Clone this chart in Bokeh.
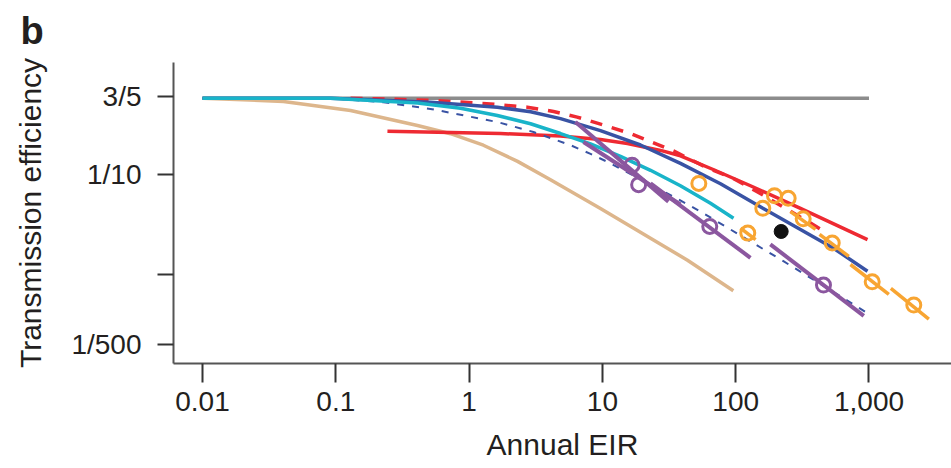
from bokeh.plotting import figure
from bokeh.models import FixedTicker, CustomJSTickFormatter, Range1d, Title
from bokeh.embed import file_html
from bokeh.resources import INLINE

# ---------------- data ----------------
x_ticks = [0.01, 0.1, 1, 10, 100, 1000]
x_tick_labels = ["0.01", "0.1", "1", "10", "100", "1,000"]
y_ticks = [0.6, 0.1, 0.01, 0.002]
y_tick_labels = ["3/5", "1/10", "", "1/500"]

grey_x = [0.01, 1000]
grey_y = [0.575, 0.575]

tan_x = [0.01, 0.0405, 0.129, 0.41, 0.725, 1.28, 2.31, 4.08, 9.67, 43.5, 96]
tan_y = [0.575, 0.532, 0.433, 0.307, 0.254, 0.195, 0.1346, 0.0882, 0.0455, 0.0139, 0.0069]

cyan_x = [0.01, 0.0912, 0.41, 0.862, 1.63, 2.89, 4.85, 8.14, 13.67, 22.96, 38.5, 64.7, 96.3]
cyan_y = [0.575, 0.573, 0.515, 0.456, 0.386, 0.319, 0.255, 0.2007, 0.151, 0.1096, 0.0769, 0.0514, 0.0365]

blue_x = [0.01, 0.0912, 0.513, 1.63, 2.89, 4.85, 9.67, 19.3, 38.5, 76.9, 160, 306, 542, 975]
blue_y = [0.575, 0.573, 0.523, 0.467, 0.421, 0.359, 0.273, 0.196, 0.1286, 0.0805, 0.0458, 0.0282, 0.0183, 0.0108]

blue_dash_x = [0.01, 0.0912, 0.228, 0.513, 1.63, 3.04, 5.77, 8.15, 10.9, 34.1, 54.5, 129, 228, 727, 970]
blue_dash_y = [0.575, 0.573, 0.523, 0.449, 0.332, 0.264, 0.195, 0.160, 0.133, 0.0598, 0.0425, 0.0214, 0.0136, 0.00526, 0.00414]

red_dash_x = [0.129, 0.513, 1.45, 2.73, 4.3, 6.47, 10.2, 16.3, 25.8, 34.1, 61, 96, 145, 364, 485]
red_dash_y = [0.573, 0.548, 0.503, 0.467, 0.423, 0.372, 0.31, 0.254, 0.199, 0.171, 0.116, 0.0909, 0.0671, 0.0326, 0.0259]

red_x = [0.244, 0.725, 1.72, 4.85, 9.67, 15.4, 27.3, 38.5, 68.5, 129, 306, 975]
red_y = [0.268, 0.261, 0.255, 0.241, 0.222, 0.203, 0.173, 0.153, 0.111, 0.0769, 0.0458, 0.0223]

# purple: local fitted lines and observations
purple_x0 = [6.28, 7.21, 22.96, 182]
purple_y0 = [0.332, 0.21, 0.081, 0.02]
purple_x1 = [31.3, 38.5, 129, 914]
purple_y1 = [0.0534, 0.05, 0.0147, 0.00387]
purple_pts_x = [16.7, 18.7, 63.9, 455.7]
purple_pts_y = [0.1234, 0.0787, 0.0302, 0.00785]

# orange: observations and local fitted lines
orange_pts_x = [52.9, 159.7, 195.4, 247.6, 320.9, 123.2, 530, 1057, 2168]
orange_pts_y = [0.0811, 0.0458, 0.0612, 0.0576, 0.036, 0.0259, 0.0206, 0.00847, 0.00497]
orange_x0 = [257.6, 108.6, 425.6, 726, 1459]
orange_y0 = [0.0425, 0.029, 0.0252, 0.0126, 0.00729]
orange_x1 = [397, 141, 705.6, 1409, 2812]
orange_y1 = [0.0282, 0.0223, 0.0152, 0.00635, 0.00359]

black_x = [219.4]
black_y = [0.0269]

# ---------------- figure ----------------
FONT = "Liberation Sans"
p = figure(width=951, height=468, x_axis_type="log", y_axis_type="log",
           x_range=Range1d(10 ** -2.2176, 10 ** 3.619),
           y_range=Range1d(10 ** -2.887, 10 ** 0.115),
           output_backend="svg", toolbar_location=None,
           min_border_left=173, min_border_right=0,
           min_border_top=60, min_border_bottom=105)
p.outline_line_color = None
p.grid.visible = False
p.background_fill_color = "white"
p.border_fill_color = "white"

p.xaxis.ticker = FixedTicker(ticks=x_ticks, minor_ticks=[])
p.yaxis.ticker = FixedTicker(ticks=y_ticks, minor_ticks=[])
p.xaxis.formatter = CustomJSTickFormatter(args=dict(vals=x_ticks, labs=x_tick_labels), code="""
const i = vals.findIndex(v => Math.abs(Math.log10(v) - Math.log10(tick)) < 1e-6);
return i >= 0 ? labs[i] : "";
""")
p.yaxis.formatter = CustomJSTickFormatter(args=dict(vals=y_ticks, labs=y_tick_labels), code="""
const i = vals.findIndex(v => Math.abs(Math.log10(v) - Math.log10(tick)) < 1e-6);
return i >= 0 ? labs[i] : "";
""")

for ax in (p.xaxis[0], p.yaxis[0]):
    ax.axis_line_color = "#555555"
    ax.axis_line_width = 2
    ax.major_tick_line_color = "#333333"
    ax.major_tick_line_width = 2
    ax.major_tick_in = 0
    ax.minor_tick_line_color = None
    ax.major_label_text_font = FONT
    ax.major_label_text_font_size = "28px"
    ax.major_label_text_color = "#231f20"
    ax.axis_label_text_font = FONT
    ax.axis_label_text_font_size = "30px"
    ax.axis_label_text_font_style = "normal"
    ax.axis_label_text_color = "#231f20"

p.xaxis.axis_label = "Annual EIR"
p.xaxis.major_tick_out = 19
p.xaxis.major_label_standoff = 9
p.xaxis.axis_label_standoff = 14
p.yaxis.axis_label = "Transmission efficiency"
p.yaxis.major_tick_out = 16
p.yaxis.major_label_standoff = 16
p.yaxis.axis_label_standoff = 21

# curves
p.line(grey_x, grey_y, line_color="#8c8c8c", line_width=3.5)
p.line(tan_x, tan_y, line_color="#DDB68C", line_width=3.5)
p.line(red_x, red_y, line_color="#EE2A32", line_width=3.5)
p.line(red_dash_x, red_dash_y, line_color="#EE2A32", line_width=3.5, line_dash="12 10")
p.line(blue_dash_x, blue_dash_y, line_color="#3953A4", line_width=2, line_dash="7 8")
p.line(blue_x, blue_y, line_color="#3953A4", line_width=3.5)
p.line(cyan_x, cyan_y, line_color="#19B4C9", line_width=3.5)

# purple
p.segment(purple_x0, purple_y0, purple_x1, purple_y1, line_color="#8B579F", line_width=4)
p.scatter(purple_pts_x, purple_pts_y, size=14, marker="circle", fill_color=None,
          line_color="#8B579F", line_width=3)

# orange
p.segment(orange_x0, orange_y0, orange_x1, orange_y1, line_color="#F8A532", line_width=3.5)
p.scatter(orange_pts_x, orange_pts_y, size=14, marker="circle", fill_color=None,
          line_color="#F8A532", line_width=3)

# black
p.scatter(black_x, black_y, size=14, marker="circle", fill_color="#111111", line_color="#111111")

# panel letter
p.add_layout(Title(text="b", align="left", offset=-153, standoff=18, vertical_align="top",
                   text_font=FONT, text_font_style="bold", text_font_size="38px",
                   text_color="#231f20"), "above")

open("out.html", "w").write(file_html(p, INLINE))
